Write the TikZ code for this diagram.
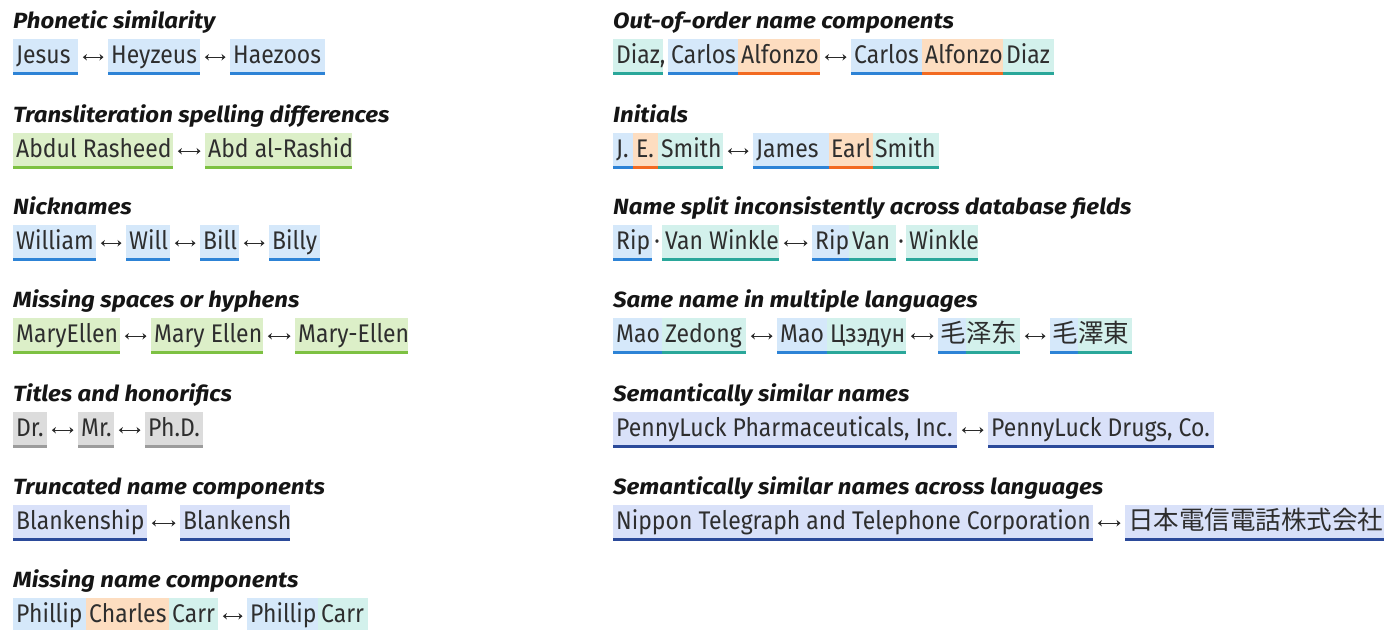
\documentclass[tikz,border=0pt]{standalone}
\usepackage{fontspec}
\setmainfont[FakeStretch=0.9]{Fira Sans}
\IfFontExistsTF{FiraSans-ExtraBoldItalic.otf}
  {\newfontfamily\headfont[FakeStretch=1.04]{FiraSans-ExtraBoldItalic.otf}
   \newcommand\headshape{\headfont}}
  {\newfontfamily\headfont[FakeStretch=1.09]{Fira Sans}
   \newcommand\headshape{\headfont\bfseries\itshape}}
\newfontfamily\cjksc{Noto Sans CJK SC}
\newfontfamily\cjktc{Noto Sans CJK TC}
\newfontfamily\cjkjp{Noto Sans CJK JP}
\usetikzlibrary{arrows.meta}

\definecolor{bodytext}{HTML}{2E2E2E}
\definecolor{headtext}{HTML}{151515}
\definecolor{arrowgray}{HTML}{2A2A2A}
\definecolor{bluefill}{HTML}{D5E8FA}
\definecolor{blueline}{HTML}{2D83D6}
\definecolor{greenfill}{HTML}{DCEFC8}
\definecolor{greenline}{HTML}{7DC142}
\definecolor{grayfill}{HTML}{DCDCDC}
\definecolor{grayline}{HTML}{9C9C9C}
\definecolor{navyfill}{HTML}{D9E1F9}
\definecolor{navyline}{HTML}{2B4A9A}
\definecolor{peachfill}{HTML}{FDDDC0}
\definecolor{peachline}{HTML}{F26A21}
\definecolor{tealfill}{HTML}{D3F1EC}
\definecolor{tealline}{HTML}{2AA79A}

\tikzset{
  heading/.style={anchor=base west, inner sep=0pt, text=headtext,
    font=\headshape\fontsize{22}{26}\selectfont},
  seg/.style={anchor=north west, inner sep=0pt, minimum height=36pt,
    text height=18pt, text depth=6pt, text=bodytext,
    font=\fontsize{25.5}{30}\selectfont},
  ul/.style={path picture={\fill[#1]
      ([yshift=3.5pt]path picture bounding box.south west)
      rectangle (path picture bounding box.south east);}},
  hlblue/.style={seg, fill=bluefill, ul=blueline},
  hlgreen/.style={seg, fill=greenfill, ul=greenline},
  hlgray/.style={seg, fill=grayfill, ul=grayline},
  hlnavy/.style={seg, fill=navyfill, ul=navyline},
  hlpeach/.style={seg, fill=peachfill, ul=peachline},
  hlteal/.style={seg, fill=tealfill, ul=tealline},
  sepdot/.style={anchor=base, inner sep=0pt, text=bodytext,
    font=\fontsize{25.5}{30}\selectfont},
  link/.style={{Stealth[length=4pt,width=6.5pt]}-{Stealth[length=4pt,width=6.5pt]},
    line width=1.3pt, draw=arrowgray, shorten >=4.5pt, shorten <=4.5pt},
}

% \tokbox[left padding]{name}{style}{left x}{right x}{top y}{text}
\newcommand\tokbox[7][3pt]{%
  \node[#3] (#2) at (#4,#6)
    {\makebox[\dimexpr #5pt-#4pt\relax][l]{\hspace{#1}#7}};}

\begin{document}
\begin{tikzpicture}[x=1pt,y=-1pt]
\useasboundingbox (0,0) rectangle (1397,629);

% ---------------- left column ----------------
\node[heading] (hA) at (13,28) {Phonetic similarity};
\tokbox{a1}{hlblue}{13}{78}{39}{Jesus}
\tokbox{a2}{hlblue}{108}{200}{39}{Heyzeus}
\tokbox{a3}{hlblue}{230}{325}{39}{Haezoos}
\draw[link] (a1.east) -- (a2.west);
\draw[link] (a2.east) -- (a3.west);

\node[heading] (hB) at (13,122) {Transliteration spelling differences};
\tokbox{b1}{hlgreen}{13}{173}{133}{Abdul Rasheed}
\tokbox{b2}{hlgreen}{205}{352}{133}{Abd al-Rashid}
\draw[link] (b1.east) -- (b2.west);

\node[heading] (hC) at (13,214) {Nicknames};
\tokbox{c1}{hlblue}{13}{96}{225}{William}
\tokbox{c2}{hlblue}{126}{170}{225}{Will}
\tokbox{c3}{hlblue}{200}{239}{225}{Bill}
\tokbox{c4}{hlblue}{269}{320}{225}{Billy}
\draw[link] (c1.east) -- (c2.west);
\draw[link] (c2.east) -- (c3.west);
\draw[link] (c3.east) -- (c4.west);

\node[heading] (hD) at (13,307) {Missing spaces or hyphens};
\tokbox{d1}{hlgreen}{13}{120}{318}{MaryEllen}
\tokbox{d2}{hlgreen}{151}{263}{318}{Mary Ellen}
\tokbox{d3}{hlgreen}{295}{408}{318}{Mary-Ellen}
\draw[link] (d1.east) -- (d2.west);
\draw[link] (d2.east) -- (d3.west);

\node[heading] (hE) at (13,401) {Titles and honorifics};
\tokbox{e1}{hlgray}{13}{47}{412}{Dr.}
\tokbox{e2}{hlgray}{78}{114}{412}{Mr.}
\tokbox{e3}{hlgray}{145}{203}{412}{Ph.D.}
\draw[link] (e1.east) -- (e2.west);
\draw[link] (e2.east) -- (e3.west);

\node[heading] (hF) at (13,494) {Truncated name components};
\tokbox{f1}{hlnavy}{13}{147}{505}{Blankenship}
\tokbox{f2}{hlnavy}{180}{290}{505}{Blankensh}
\draw[link] (f1.east) -- (f2.west);

\node[heading] (hG) at (13,587) {Missing name components};
\tokbox{g1}{hlblue}{13}{86}{598}{Phillip}
\tokbox{g2}{hlpeach}{86}{169}{598}{Charles}
\tokbox{g3}{hlteal}{169}{218}{598}{Carr}
\tokbox{g4}{hlblue}{247}{318}{598}{Phillip}
\tokbox{g5}{hlteal}{318}{368}{598}{Carr}
\draw[link] (g3.east) -- (g4.west);

% ---------------- right column ----------------
\node[heading] (hH) at (613,28) {Out-of-order name components};
\tokbox{h1}{hlteal}{613}{663}{39}{Diaz,}
\tokbox{h2}{hlblue}{668}{738}{39}{Carlos}
\tokbox{h3}{hlpeach}{738}{820}{39}{Alfonzo}
\tokbox{h4}{hlblue}{851}{922}{39}{Carlos}
\tokbox{h5}{hlpeach}{922}{1003}{39}{Alfonzo}
\tokbox{h6}{hlteal}{1003}{1054}{39}{Diaz}
\draw[link] (h3.east) -- (h4.west);

\node[heading] (hI) at (613,122) {Initials};
\tokbox{i1}{hlblue}{613}{633}{133}{J.}
\tokbox{i2}{hlpeach}{633}{658}{133}{E.}
\tokbox{i3}{hlteal}{658}{723}{133}{Smith}
\tokbox{i4}{hlblue}{753}{829}{133}{James}
\tokbox[2pt]{i5}{hlpeach}{829}{873}{133}{Earl}
\tokbox[2pt]{i6}{hlteal}{873}{939}{133}{Smith}
\draw[link] (i3.east) -- (i4.west);

\node[heading] (hJ) at (613,214) {Name split inconsistently across database fields};
\tokbox{j1}{hlblue}{613}{652}{225}{Rip}
\node[sepdot] (jd1) at (657,249) {·};
\tokbox{j2}{hlteal}{662}{779}{225}{Van Winkle}
\tokbox{j3}{hlblue}{812}{849}{225}{Rip}
\tokbox{j4}{hlteal}{849}{896}{225}{Van}
\node[sepdot] (jd2) at (901,249) {·};
\tokbox{j5}{hlteal}{906}{978}{225}{Winkle}
\draw[link] (j2.east) -- (j3.west);

\node[heading] (hK) at (613,307) {Same name in multiple languages};
\tokbox{k1}{hlblue}{613}{662}{318}{Mao}
\tokbox{k2}{hlteal}{662}{746}{318}{Zedong}
\tokbox{k3}{hlblue}{777}{827}{318}{Mao}
\tokbox{k4}{hlteal}{827}{906}{318}{Цзэдун}
\tokbox[2pt]{k5}{hlblue}{938}{966}{318}{\cjksc\fontsize{25.5}{30}\selectfont 毛}
\tokbox[0pt]{k6}{hlteal}{966}{1020}{318}{\cjksc\fontsize{25.5}{30}\selectfont 泽东}
\tokbox[2pt]{k7}{hlblue}{1050}{1078}{318}{\cjktc\fontsize{25.5}{30}\selectfont 毛}
\tokbox[0pt]{k8}{hlteal}{1078}{1132}{318}{\cjktc\fontsize{25.5}{30}\selectfont 澤東}
\draw[link] (k2.east) -- (k3.west);
\draw[link] (k4.east) -- (k5.west);
\draw[link] (k6.east) -- (k7.west);

\node[heading] (hL) at (613,401) {Semantically similar names};
\tokbox{l1}{hlnavy}{613}{957}{412}{PennyLuck Pharmaceuticals, Inc.}
\tokbox{l2}{hlnavy}{988}{1214}{412}{PennyLuck Drugs, Co.}
\draw[link] (l1.east) -- (l2.west);

\node[heading] (hM) at (613,494) {Semantically similar names across languages};
\tokbox{m1}{hlnavy}{613}{1093}{505}{Nippon Telegraph and Telephone Corporation}
\tokbox{m2}{hlnavy}{1125}{1384}{505}{\cjkjp\fontsize{25.5}{30}\selectfont 日本電信電話株式会社}
\draw[link] (m1.east) -- (m2.west);
\end{tikzpicture}
\end{document}
